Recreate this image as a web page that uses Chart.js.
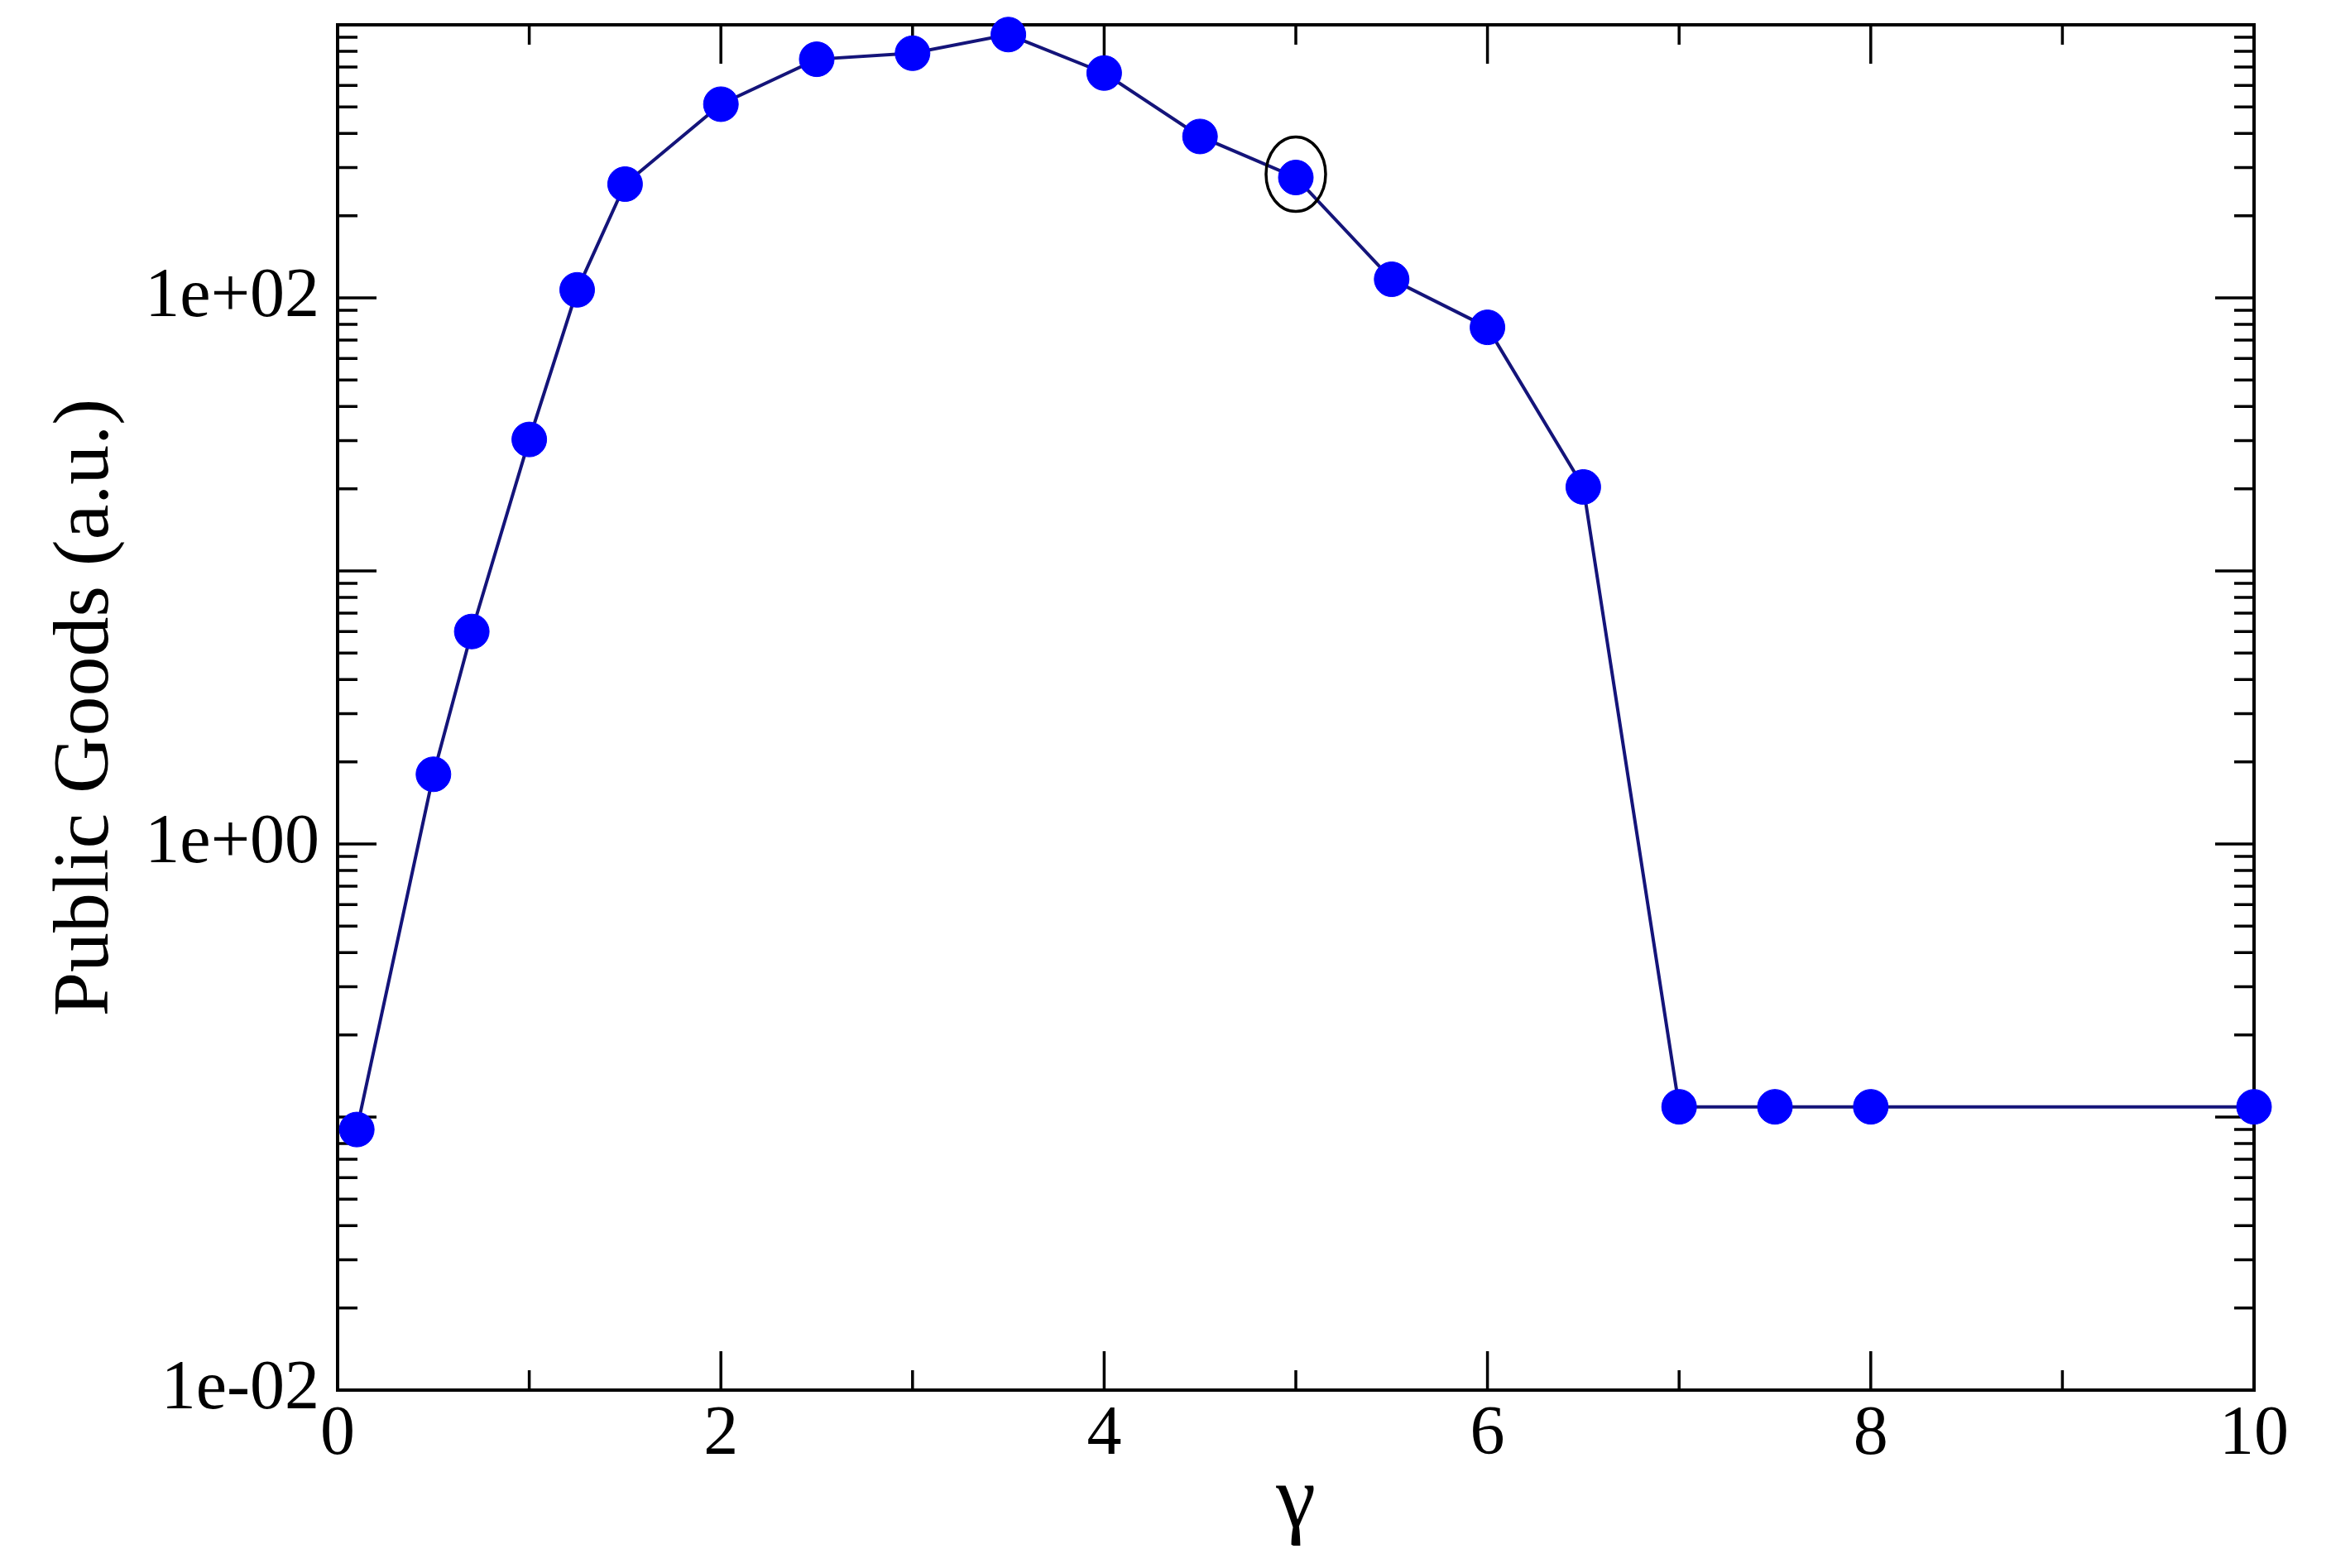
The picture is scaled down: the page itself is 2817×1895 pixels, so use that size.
<!DOCTYPE html>
<html>
<head>
<meta charset="utf-8">
<script src="https://cdn.jsdelivr.net/npm/chart.js@4/dist/chart.umd.min.js"></script>
<style>
  html, body { margin: 0; padding: 0; background: #fff; }
  #wrap { width: 2817px; height: 1895px; }
</style>
</head>
<body>
<div id="wrap"><canvas id="pg" width="2817" height="1895"></canvas></div>
<script>
// values
const gammaValues = [0.1, 0.5, 0.7, 1.0, 1.25, 1.5, 2.0, 2.5, 3.0, 3.5, 4.0, 4.5, 5.0, 5.5, 6.0, 6.5, 7.0, 7.5, 8.0, 10.0];
const publicGoods = [0.09, 1.8, 6.0, 30.3, 107, 261, 512, 748, 787, 921, 666, 390, 276, 117, 78, 20.3, 0.109, 0.109, 0.109, 0.109];

// tick marks / labels
const xMajorTicks = [0, 2, 4, 6, 8, 10];
const xMinorTicks = [1, 3, 5, 7, 9];
const yLabelValues = [0.01, 1, 100];
const yDecades = [-2, -1, 0, 1, 2, 3];

// circled point
const highlight = { x: 5.0, y: 276 };

const serif = 'Liberation Serif';

function fmtExp(v) {
  const e = Math.round(Math.log10(v));
  return '1e' + (e < 0 ? '-' : '+') + String(Math.abs(e)).padStart(2, '0');
}

// frame + inward ticks on all four sides, like xmgrace
const framePlugin = {
  id: 'frame',
  beforeDatasetsDraw(chart) {
    const { ctx, chartArea: a, scales } = chart;
    const x = scales.x, y = scales.y;
    ctx.save();
    ctx.strokeStyle = '#000';
    ctx.lineWidth = 3.5;
    ctx.lineCap = 'butt';
    ctx.beginPath();

    const xTick = (v, len) => {
      const px = x.getPixelForValue(v);
      ctx.moveTo(px, a.bottom); ctx.lineTo(px, a.bottom - len);
      ctx.moveTo(px, a.top); ctx.lineTo(px, a.top + len);
    };
    const yTick = (v, len) => {
      const py = y.getPixelForValue(v);
      ctx.moveTo(a.left, py); ctx.lineTo(a.left + len, py);
      ctx.moveTo(a.right, py); ctx.lineTo(a.right - len, py);
    };

    xMajorTicks.forEach(v => xTick(v, 47));
    xMinorTicks.forEach(v => xTick(v, 24));
    yDecades.forEach(e => {
      yTick(Math.pow(10, e), 47);
      if (e < 3) {
        for (let m = 2; m <= 9; m++) yTick(m * Math.pow(10, e), 24);
      }
    });
    ctx.stroke();

    ctx.lineWidth = 4;
    ctx.strokeRect(a.left, a.top, a.right - a.left, a.bottom - a.top);
    ctx.restore();
  },
  afterDatasetsDraw(chart) {
    const { ctx, scales } = chart;
    const cx = scales.x.getPixelForValue(highlight.x);
    const cy = scales.y.getPixelForValue(highlight.y) - 4;
    ctx.save();
    ctx.strokeStyle = '#000';
    ctx.lineWidth = 3.5;
    ctx.beginPath();
    ctx.ellipse(cx, cy, 36, 45, 0, 0, Math.PI * 2);
    ctx.stroke();
    ctx.restore();
  }
};

const points = gammaValues.map((g, i) => ({ x: g, y: publicGoods[i] }));

new Chart(document.getElementById('pg'), {
  type: 'line',
  data: {
    datasets: [{
      data: points,
      borderColor: '#14147a',
      borderWidth: 4,
      tension: 0,
      pointRadius: 21,
      pointHoverRadius: 21,
      pointBackgroundColor: '#0000ff',
      pointBorderColor: '#0000ff',
      pointBorderWidth: 1,
      clip: false
    }]
  },
  options: {
    responsive: false,
    animation: false,
    devicePixelRatio: 1,
    layout: { padding: { left: 0, top: 30, right: 93, bottom: 0 } },
    plugins: { legend: { display: false }, tooltip: { enabled: false } },
    scales: {
      x: {
        type: 'linear',
        min: 0,
        max: 10,
        afterBuildTicks: s => { s.ticks = xMajorTicks.map(v => ({ value: v })); },
        afterFit: s => { s.height = 215; s.paddingLeft = 0; s.paddingRight = 0; },
        grid: { display: false, drawTicks: false },
        border: { display: false },
        ticks: {
          color: '#000',
          padding: 13,
          maxRotation: 0,
          autoSkip: false,
          font: { family: serif, size: 84, lineHeight: 1 }
        },
        title: {
          display: true,
          text: 'γ',
          color: '#000',
          padding: { top: 0, bottom: 24 },
          font: { family: serif, size: 108, lineHeight: 1 }
        }
      },
      y: {
        type: 'logarithmic',
        min: 0.01,
        max: 1000,
        afterBuildTicks: s => { s.ticks = yLabelValues.map(v => ({ value: v })); },
        afterFit: s => { s.width = 408; s.paddingTop = 0; s.paddingBottom = 0; },
        grid: { display: false, drawTicks: false },
        border: { display: false },
        ticks: {
          color: '#000',
          padding: 22,
          autoSkip: false,
          callback: v => fmtExp(v),
          font: { family: serif, size: 84, lineHeight: 1 }
        },
        title: {
          display: true,
          text: 'Public Goods (a.u.)',
          color: '#000',
          padding: { top: 57, bottom: 0 },
          font: { family: serif, size: 96, lineHeight: 1 }
        }
      }
    }
  },
  plugins: [framePlugin]
});
</script>
</body>
</html>
